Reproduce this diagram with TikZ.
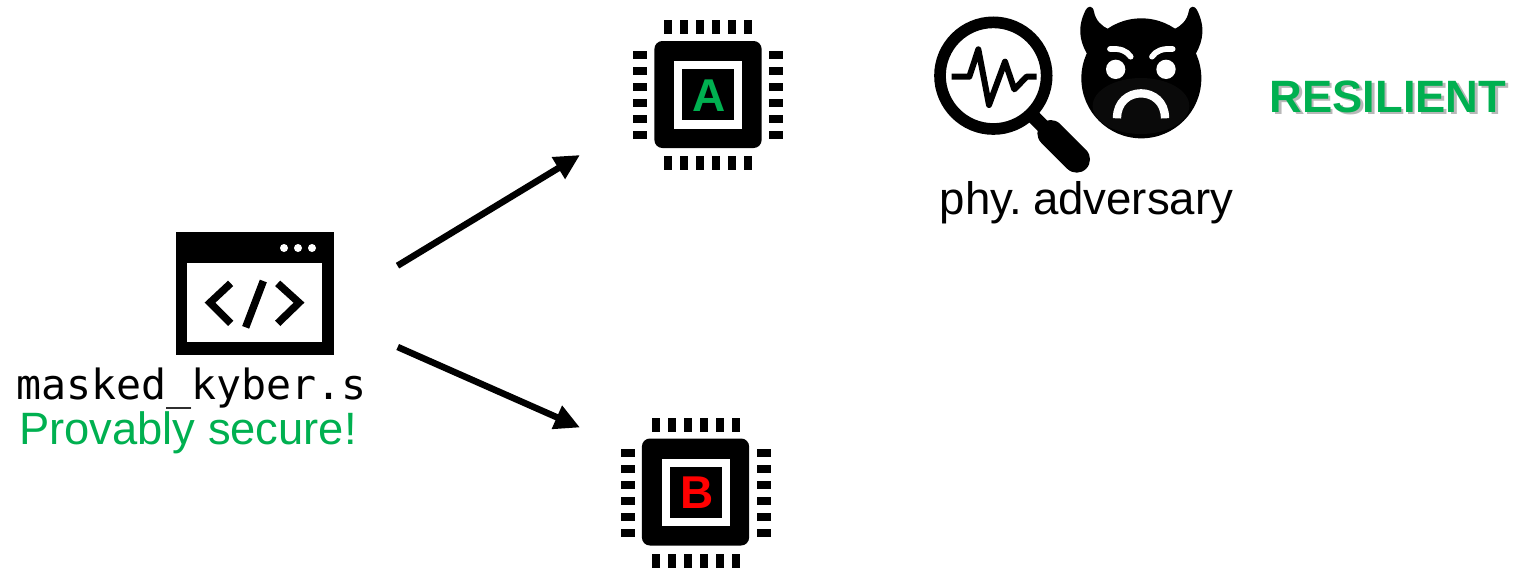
\documentclass[tikz,border=0pt]{standalone}
\usepackage{fontspec}
\setmainfont{Liberation Sans}
\newfontfamily\codefont{DejaVu Sans Mono}
\usetikzlibrary{arrows.meta}
\definecolor{okgreen}{HTML}{00B050}
\tikzset{
  ink/.style={fill=black,draw=none},
  paper/.style={fill=white,draw=none},
  flow/.style={line width=4.9pt,-{Triangle[length=19pt,width=18pt]}},
  label/.style={inner sep=0pt,anchor=base,text=black},
  chipletter/.style={inner sep=0pt,anchor=base,font=\fontsize{34.5pt}{36pt}\selectfont\bfseries}
}
\newcommand{\chip}[2]{%
  \begin{scope}[shift={(#1,#2)}]
    \fill[ink,rounded corners=6pt] (-53.6,-53.5) rectangle (53.6,53.5);
    \fill[paper] (-34,-33.5) rectangle (34,34);
    \fill[ink] (-26,-25.5) rectangle (26,25.5);
    \foreach \i in {0,...,5}{
      \fill[ink] (-44+16*\i,-74.5) rectangle (-36+16*\i,-60.5);
      \fill[ink] (-44+16*\i,61.5) rectangle (-36+16*\i,75.5);
      \fill[ink] (-75,-43.5+16*\i) rectangle (-61,-35.5+16*\i);
      \fill[ink] (61,-43.5+16*\i) rectangle (75,-35.5+16*\i);
    }
  \end{scope}}
\begin{document}
\begin{tikzpicture}[x=0.75pt,y=-0.75pt]
\useasboundingbox (0,0) rectangle (1513,571);
% chips
\chip{708}{94.5}
\node[chipletter,text=okgreen] (lettera) at (709.3,111) {A};
\chip{695.5}{492}
\node[chipletter,text=red] (letterb) at (697,508.5) {B};
% code window
\fill[ink] (175.6,232.3) rectangle (333.6,354.6);
\fill[paper] (187.3,263.3) rectangle (322,342.3);
\foreach \x in {284,298,312} \fill[paper] (\x,248) circle[radius=4];
\begin{scope}[shift={(160,220)},x=0.25pt,y=-0.25pt]
  \draw[line width=5.6pt,miter limit=10] (212,190) -- (150,248) -- (212,310);
  \draw[line width=5.6pt,miter limit=10] (353,190) -- (417,248) -- (353,310);
  \draw[line width=5.6pt] (310,183) -- (257,322);
\end{scope}
% magnifier
\begin{scope}[shift={(920,0)},x=0.25pt,y=-0.25pt]
  \draw[line width=8.75pt] (220,227) circle[x radius=160,y radius=160];
  \draw[line width=10.5pt] (340,350) -- (385,395);
  \draw[line width=20pt,line cap=round] (392,400) -- (470,478);
  \draw[line width=4.5pt,line join=round] (95,230) -- (148,230) -- (175,148) -- (207,315) -- (255,185) -- (283,268) -- (320,230) -- (350,230);
  % devil
  \fill[ink] (664,235) circle[x radius=180,y radius=180];
  \fill[ink] (500,160) .. controls (478,120) and (472,80) .. (497,30)
     .. controls (503,18) and (518,14) .. (522,35)
     .. controls (527,62) and (545,78) .. (566,88) -- (600,200) -- cycle;
  \fill[ink] (828,160) .. controls (850,120) and (856,80) .. (831,30)
     .. controls (825,18) and (810,14) .. (806,35)
     .. controls (801,62) and (783,78) .. (762,88) -- (728,200) -- cycle;
  \fill[black!96] (663,318) circle[x radius=145,y radius=84];
  \fill[paper] (587,208) circle[x radius=29,y radius=29];
  \fill[paper] (738,208) circle[x radius=29,y radius=29];
  \draw[white,line width=4.3pt,line cap=round] (570,147) .. controls (600,145) and (620,152) .. (632,170);
  \draw[white,line width=4.3pt,line cap=round] (758,147) .. controls (728,145) and (708,152) .. (696,170);
  \draw[white,line width=6.25pt] (591,355) .. controls (591,255) and (735,255) .. (735,355);
\end{scope}
% texts
\node[label] (codename) at (191.5,399) {\codefont\fontsize{31.2pt}{36pt}\selectfont masked\_kyber.s};
\node[label,text=okgreen] (proof) at (188,444) {\fontsize{34pt}{40pt}\selectfont Provably secure!};
\node[label] (adv) at (1086.5,214) {\fontsize{34.2pt}{40pt}\selectfont phy.\kern-1.5pt\ adversary};
\node[label,text=black,opacity=0.28] (shadow) at (1390.5,114) {\fontsize{34pt}{40pt}\selectfont\bfseries RESILIENT};
\node[label,text=okgreen] (res) at (1388,112) {\fontsize{34pt}{40pt}\selectfont\bfseries RESILIENT};
% connectors
\coordinate (srca) at (397.5,265.7);
\coordinate (dsta) at (580,155);
\coordinate (srcb) at (397.7,347);
\coordinate (dstb) at (580,427.5);
\draw[flow] (srca) -- (dsta);
\draw[flow] (srcb) -- (dstb);
\end{tikzpicture}
\end{document}
